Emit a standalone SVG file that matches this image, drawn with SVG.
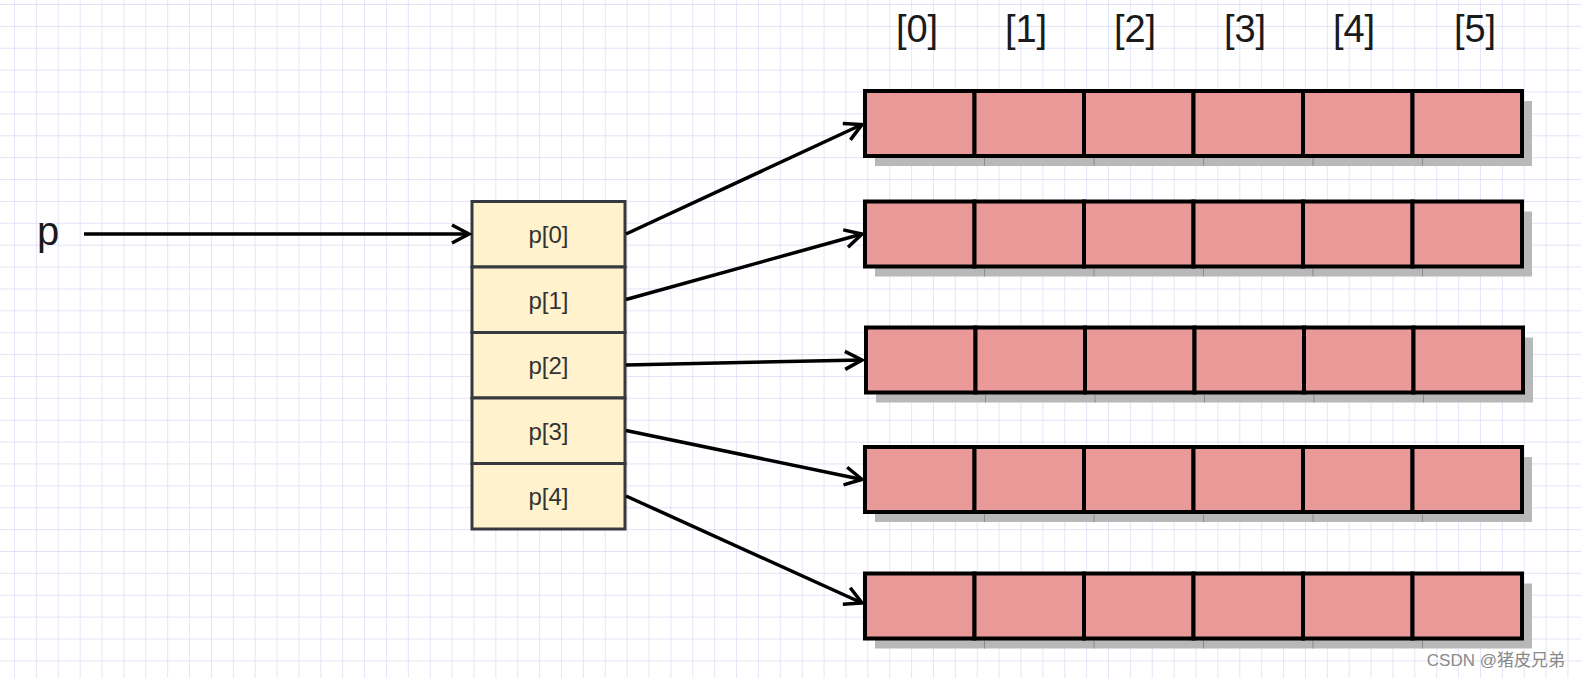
<svg xmlns="http://www.w3.org/2000/svg" width="1581" height="678" viewBox="0 0 1581 678">
<style>
.ptr{fill:#fff2cc;stroke:#36393d;stroke-width:3}
.ptxt{font-family:"Liberation Sans",Arial,sans-serif;font-size:24px;fill:#333;text-anchor:middle}
.cell{fill:#ea9999;stroke:#000;stroke-width:4}
.shadow{fill:#b8b8b8}
.tick{stroke:#8c8c8c;stroke-width:1}
.idx{font-family:"Liberation Sans",Arial,sans-serif;font-size:38px;fill:#1a1a1a;text-anchor:middle}
.edge{stroke:#000;stroke-width:3.5;fill:none;marker-end:url(#arr)}
</style>
<defs>
<pattern id="grid" x="14" y="4" width="21.88" height="21.88" patternUnits="userSpaceOnUse">
<path d="M0 0V21.88M0 0H21.88" stroke="#dadaf6" stroke-width="1.4" fill="none"/>
</pattern>
<marker id="arr" markerUnits="userSpaceOnUse" viewBox="-24 -13 30 26" refX="0" refY="0" markerWidth="30" markerHeight="26" orient="auto" overflow="visible">
<path d="M-17,-9 L0,0 L-17,9" fill="none" stroke="#000" stroke-width="3.5" stroke-linejoin="miter"/>
</marker>
<g id="rowtpl">
<rect class="shadow" x="10" y="10" width="657" height="65"/>
<line class="tick" x1="119.5" y1="67" x2="119.5" y2="75"/>
<line class="tick" x1="229" y1="67" x2="229" y2="75"/>
<line class="tick" x1="338.5" y1="67" x2="338.5" y2="75"/>
<line class="tick" x1="448" y1="67" x2="448" y2="75"/>
<line class="tick" x1="557.5" y1="67" x2="557.5" y2="75"/>
<rect class="cell" x="0" y="0" width="109.5" height="65"/>
<rect class="cell" x="109.5" y="0" width="109.5" height="65"/>
<rect class="cell" x="219" y="0" width="109.5" height="65"/>
<rect class="cell" x="328.5" y="0" width="109.5" height="65"/>
<rect class="cell" x="438" y="0" width="109.5" height="65"/>
<rect class="cell" x="547.5" y="0" width="109.5" height="65"/>
</g>
</defs>
<rect width="1581" height="678" fill="#fff"/>
<rect width="1581" height="678" fill="url(#grid)"/>

<g id="label-p"><text x="48" y="245" font-family="Liberation Sans,Arial,sans-serif" font-size="40" fill="#1a1a1a" text-anchor="middle">p</text></g>

<g id="index-labels">
<text class="idx" x="917" y="42">[0]</text>
<text class="idx" x="1026" y="42">[1]</text>
<text class="idx" x="1135" y="42">[2]</text>
<text class="idx" x="1245" y="42">[3]</text>
<text class="idx" x="1354" y="42">[4]</text>
<text class="idx" x="1475" y="42">[5]</text>
</g>

<g id="pointer-array">
<g id="p0"><rect class="ptr" x="472" y="201.5" width="153" height="65.5"/><text class="ptxt" x="548.5" y="243">p[0]</text></g>
<g id="p1"><rect class="ptr" x="472" y="267" width="153" height="65.5"/><text class="ptxt" x="548.5" y="308.5">p[1]</text></g>
<g id="p2"><rect class="ptr" x="472" y="332.5" width="153" height="65.5"/><text class="ptxt" x="548.5" y="374">p[2]</text></g>
<g id="p3"><rect class="ptr" x="472" y="398" width="153" height="65.5"/><text class="ptxt" x="548.5" y="439.5">p[3]</text></g>
<g id="p4"><rect class="ptr" x="472" y="463.5" width="153" height="65.5"/><text class="ptxt" x="548.5" y="505">p[4]</text></g>
</g>

<g id="row0"><use href="#rowtpl" x="865" y="91"/></g>
<g id="row1"><use href="#rowtpl" x="865" y="201.5"/></g>
<g id="row2"><use href="#rowtpl" x="866" y="327.5"/></g>
<g id="row3"><use href="#rowtpl" x="865" y="447"/></g>
<g id="row4"><use href="#rowtpl" x="865" y="573.5"/></g>

<g id="connectors">
<line class="edge" x1="84" y1="234" x2="469" y2="234"/>
<line class="edge" x1="626" y1="234" x2="862" y2="124.5"/>
<line class="edge" x1="626" y1="299.5" x2="862" y2="234"/>
<line class="edge" x1="626" y1="365" x2="862" y2="360"/>
<line class="edge" x1="626" y1="430.5" x2="862" y2="479.5"/>
<line class="edge" x1="626" y1="496" x2="862" y2="603"/>
</g>

<g id="watermark"><text x="1565" y="666" font-family="Liberation Sans,'Noto Sans CJK SC',sans-serif" font-size="17" fill="#8a8a8a" text-anchor="end">CSDN @猪皮兄弟</text></g>
</svg>
